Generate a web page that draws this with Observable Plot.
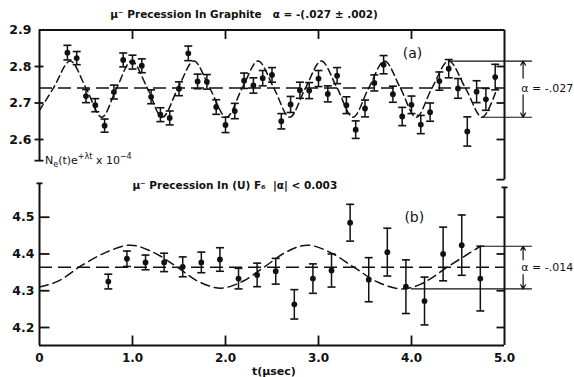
<!DOCTYPE html>
<html>
<head>
<meta charset="utf-8">
<script src="https://cdn.jsdelivr.net/npm/d3@7"></script>
<script src="https://cdn.jsdelivr.net/npm/@observablehq/plot@0.6"></script>
<style>
  body { margin: 0; background: #fff; }
  #fig { position: relative; width: 574px; height: 377px; }
  #fig svg { position: absolute; left: 0; top: 0; }
</style>
</head>
<body>
<div id="fig"></div>
<script>
// ---- Panel (a): mu- precession in graphite ----
const tA = [0.3, 0.4, 0.5, 0.6, 0.7, 0.8, 0.9, 1.0, 1.1, 1.2, 1.3, 1.4, 1.5, 1.6, 1.7, 1.8,
  1.9, 2.0, 2.1, 2.2, 2.3, 2.4, 2.5, 2.6, 2.7, 2.8, 2.9, 3.0, 3.1, 3.2, 3.3, 3.4, 3.5, 3.6,
  3.7, 3.8, 3.9, 4.0, 4.1, 4.2, 4.3, 4.4, 4.5, 4.6, 4.7, 4.8, 4.9];
const countA = [2.838, 2.823, 2.719, 2.694, 2.638, 2.730, 2.818, 2.812, 2.802, 2.717, 2.668,
  2.659, 2.739, 2.836, 2.759, 2.758, 2.689, 2.640, 2.678, 2.761, 2.748, 2.768, 2.777, 2.650,
  2.696, 2.735, 2.734, 2.767, 2.725, 2.775, 2.694, 2.627, 2.685, 2.755, 2.805, 2.724, 2.663,
  2.695, 2.641, 2.675, 2.760, 2.794, 2.740, 2.622, 2.731, 2.710, 2.771];
const errA = [0.020, 0.018, 0.018, 0.018, 0.018, 0.019, 0.019, 0.019, 0.019, 0.019, 0.019,
  0.019, 0.019, 0.020, 0.020, 0.020, 0.020, 0.021, 0.021, 0.021, 0.021, 0.021, 0.020, 0.021,
  0.022, 0.022, 0.022, 0.022, 0.022, 0.022, 0.023, 0.024, 0.023, 0.022, 0.025, 0.022, 0.025,
  0.024, 0.025, 0.025, 0.025, 0.025, 0.027, 0.040, 0.030, 0.030, 0.035];
// fitted precession curve, read at its peaks, troughs and mean crossings
const fitTA = [0, 0.15, 0.33, 0.50, 0.67, 0.83, 0.99, 1.16, 1.32, 1.49, 1.66, 1.83, 2.01,
  2.18, 2.35, 2.52, 2.69, 2.86, 3.03, 3.20, 3.37, 3.54, 3.71, 3.88, 4.05, 4.22, 4.40, 4.58,
  4.76, 4.92];
const fitA = [2.680, 2.741, 2.815, 2.741, 2.661, 2.741, 2.815, 2.741, 2.661, 2.741, 2.815,
  2.741, 2.661, 2.741, 2.815, 2.741, 2.661, 2.741, 2.815, 2.741, 2.661, 2.741, 2.815, 2.741,
  2.661, 2.741, 2.815, 2.741, 2.661, 2.741];
const meanA = 2.741, peakA = 2.815, troughA = 2.661;
const yTicksA = [2.9, 2.8, 2.7, 2.6];

// ---- Panel (b): mu- precession in UF6 ----
const tB = [0.74, 0.94, 1.14, 1.34, 1.54, 1.74, 1.94, 2.14, 2.34, 2.54, 2.74, 2.94, 3.14,
  3.34, 3.54, 3.74, 3.94, 4.14, 4.34, 4.54, 4.74];
const countB = [4.325, 4.387, 4.377, 4.377, 4.365, 4.377, 4.385, 4.333, 4.343, 4.353, 4.263,
  4.333, 4.355, 4.485, 4.330, 4.405, 4.311, 4.272, 4.400, 4.424, 4.333];
const errB = [0.020, 0.021, 0.020, 0.025, 0.027, 0.028, 0.032, 0.028, 0.032, 0.035, 0.040,
  0.040, 0.045, 0.050, 0.060, 0.065, 0.073, 0.065, 0.073, 0.082, 0.088];
const fitTB = [0, 0.2, 0.45, 0.72, 0.98, 1.22, 1.47, 1.71, 1.95, 2.18, 2.42, 2.65, 2.88,
  3.12, 3.38, 3.64, 3.90, 4.10, 4.42, 4.74];
const fitB = [4.310, 4.326, 4.368, 4.405, 4.424, 4.405, 4.366, 4.325, 4.307, 4.325, 4.365,
  4.405, 4.424, 4.405, 4.364, 4.323, 4.305, 4.318, 4.370, 4.421];
const meanB = 4.364, peakB = 4.421, troughB = 4.305;
const yTicksB = [4.5, 4.4, 4.3, 4.2];

// ---- shared time axis ----
const xTicks = [0, 1, 2, 3, 4, 5];
const xTickLabels = ["0", "1.0", "2.0", "3.0", "4.0", "5.0"];
const innerTicks = [1, 2, 3, 4];

const ptsA = tA.map((t, i) => ({t, v: countA[i], e: errA[i]}));
const ptsB = tB.map((t, i) => ({t, v: countB[i], e: errB[i]}));
const curveA = fitTA.map((t, i) => ({t, v: fitA[i]}));
const curveB = fitTB.map((t, i) => ({t, v: fitB[i]}));

// little line glyphs used for error-bar caps and axis ticks
const seg = (x1, y1, x2, y2) => ({draw(ctx) { ctx.moveTo(x1, y1); ctx.lineTo(x2, y2); }});
const cap = seg(-4, 0, 4, 0);
const tickCross = seg(-5, 0, 4, 0);
const tickIn = seg(0, 0, 10, 0);
const tickLeft = seg(-8, 0, 0, 0);
const tickDown = seg(0, 0, 0, 9);
const tickUp = seg(0, 0, 0, -10);
const topCap = seg(-3, 0, 3, 0);

const ink = "#111";
const font = "DejaVu Sans, sans-serif";
const xScale = {domain: [0, 5], range: [39, 504], axis: null};
const bracketEnd = 5.3, arrowX = 5.2, labelX = 5.18;

function errorMarks(pts) {
  return [
    Plot.ruleX(pts, {x: "t", y1: d => d.v - d.e, y2: d => d.v + d.e, stroke: ink, strokeWidth: 1.5}),
    Plot.dot(pts, {x: "t", y: d => d.v - d.e, symbol: cap, r: 3, fill: "none", stroke: ink, strokeWidth: 1.6}),
    Plot.dot(pts, {x: "t", y: d => d.v + d.e, symbol: cap, r: 3, fill: "none", stroke: ink, strokeWidth: 1.6}),
    Plot.dot(pts, {x: "t", y: "v", r: 2.9, fill: ink, stroke: "none"})
  ];
}

function tickMarks(values, x, symbol) {
  return Plot.dot(values, {x: () => x, y: d => d, symbol, r: 3, fill: "none", stroke: ink, strokeWidth: 1.8});
}

const fig = document.getElementById("fig");

// ---------- panel (a) ----------
const bottomLeftA = 2.542, bottomRightA = 2.490;
const plotA = Plot.plot({
  width: 574, height: 377,
  style: {background: "transparent", overflow: "visible", fontFamily: font},
  x: xScale,
  y: {domain: [2.6, 2.9], range: [139, 29.5], axis: null},
  marks: [
    // frame: top edge, left and right axes
    Plot.ruleY([2.9], {x1: 0, x2: 5, stroke: ink, strokeWidth: 2}),
    Plot.ruleX([0], {y1: bottomLeftA, y2: 2.9, stroke: ink, strokeWidth: 2}),
    Plot.ruleX([5], {y1: bottomRightA, y2: 2.9, stroke: ink, strokeWidth: 2}),
    Plot.dot(innerTicks, {x: d => d, y: () => 2.9, symbol: tickDown, r: 3, fill: "none", stroke: ink, strokeWidth: 1.8}),
    tickMarks([2.8, 2.7, 2.6, bottomLeftA], 0, tickCross),
    tickMarks([2.8, 2.7, 2.6, bottomRightA], 5, tickLeft),
    Plot.text(yTicksA, {x: () => 0, y: d => d, text: d => d.toFixed(1), textAnchor: "end", dx: -8,
      fontSize: 12.5, fontWeight: "bold", fill: ink}),
    // mean level and fitted precession
    Plot.ruleY([meanA], {x1: 0, x2: 5, stroke: ink, strokeWidth: 1.6, strokeDasharray: "13,6"}),
    Plot.line(curveA, {x: "t", y: "v", curve: "catmull-rom", stroke: ink, strokeWidth: 1.5, strokeDasharray: "7,4"}),
    ...errorMarks(ptsA),
    // amplitude bracket
    Plot.ruleY([{v: peakA, x1: 4.40}, {v: troughA, x1: 4.76}], {y: "v", x1: "x1", x2: () => bracketEnd, stroke: ink, strokeWidth: 1.2}),
    Plot.arrow([{y1: 2.768, y2: peakA}, {y1: 2.722, y2: troughA}], {x: () => arrowX, y1: "y1", y2: "y2",
      stroke: ink, strokeWidth: 1.2, headLength: 6}),
    Plot.text(["α = -.027"], {x: () => labelX, y: () => meanA, textAnchor: "start", fontSize: 11, fill: ink}),
    Plot.text(["(a)"], {x: () => 4.01, y: () => 2.836, fontSize: 14, fill: ink}),
    Plot.text(["μ⁻ Precession In Graphite   α = -(.027 ± .002)"], {x: () => 2.2, y: () => 2.9425,
      fontSize: 10.5, fontWeight: "bold", fill: ink})
  ]
});
fig.appendChild(plotA);

// axis quantity label with sub- and superscripts
{
  const sx = plotA.scale("x"), sy = plotA.scale("y");
  const t = d3.select(plotA).append("text")
    .attr("x", sx.apply(0) + 6).attr("y", sy.apply(bottomLeftA) + 4)
    .attr("text-anchor", "start")
    .attr("font-family", font).attr("font-size", 11).attr("fill", ink);
  t.append("tspan").text("N");
  t.append("tspan").attr("dy", 3).attr("font-size", 8).text("e");
  t.append("tspan").attr("dy", -3).text("(t)e");
  t.append("tspan").attr("dy", -5).attr("font-size", 8).text("+λt");
  t.append("tspan").attr("dy", 5).text(" x 10");
  t.append("tspan").attr("dy", -5).attr("font-size", 8).text("−4");
}

// ---------- panel (b) ----------
const bottomB = 4.151, topLeftB = 4.592, topRightB = 4.581;
const plotB = Plot.plot({
  width: 574, height: 377,
  style: {background: "transparent", overflow: "visible", fontFamily: font},
  x: xScale,
  y: {domain: [4.2, 4.5], range: [327, 216.7], axis: null},
  marks: [
    Plot.ruleY([bottomB], {x1: 0, x2: 5, stroke: ink, strokeWidth: 2}),
    Plot.ruleX([0], {y1: bottomB, y2: topLeftB, stroke: ink, strokeWidth: 2}),
    Plot.ruleX([5], {y1: bottomB, y2: topRightB, stroke: ink, strokeWidth: 2}),
    Plot.dot(innerTicks, {x: d => d, y: () => bottomB, symbol: tickUp, r: 3, fill: "none", stroke: ink, strokeWidth: 1.8}),
    tickMarks(yTicksB, 0, tickIn),
    tickMarks(yTicksB, 5, tickLeft),
    tickMarks([topLeftB], 0, topCap),
    tickMarks([topRightB], 5, topCap),
    Plot.text(yTicksB, {x: () => 0, y: d => d, text: d => d.toFixed(1), textAnchor: "end", dx: -5,
      fontSize: 12.5, fontWeight: "bold", fill: ink}),
    Plot.text(xTicks, {x: d => d, y: () => bottomB, text: (d, i) => xTickLabels[i], dy: 13,
      fontSize: 12, fontWeight: "bold", fill: ink}),
    Plot.text(["t(μsec)"], {x: () => 2.52, y: () => bottomB, dy: 26, fontSize: 11, fontWeight: "bold", fill: ink}),
    Plot.ruleY([meanB], {x1: 0, x2: 5, stroke: ink, strokeWidth: 1.6, strokeDasharray: "13,6"}),
    Plot.line(curveB, {x: "t", y: "v", curve: "catmull-rom", stroke: ink, strokeWidth: 1.5, strokeDasharray: "9,5"}),
    ...errorMarks(ptsB),
    Plot.ruleY([{v: peakB, x1: 4.74}, {v: troughB, x1: 4.0}], {y: "v", x1: "x1", x2: () => bracketEnd, stroke: ink, strokeWidth: 1.2}),
    Plot.arrow([{y1: 4.384, y2: peakB}, {y1: 4.344, y2: troughB}], {x: () => arrowX, y1: "y1", y2: "y2",
      stroke: ink, strokeWidth: 1.2, headLength: 6}),
    Plot.text(["α = -.014"], {x: () => labelX, y: () => meanB, textAnchor: "start", fontSize: 11, fill: ink}),
    Plot.text(["(b)"], {x: () => 4.03, y: () => 4.499, fontSize: 14, fill: ink}),
    Plot.text(["μ⁻ Precession In (U) F₆  |α| < 0.003"], {x: () => 2.1, y: () => 4.586,
      fontSize: 10.5, fontWeight: "bold", fill: ink})
  ]
});
fig.appendChild(plotB);
</script>
</body>
</html>
